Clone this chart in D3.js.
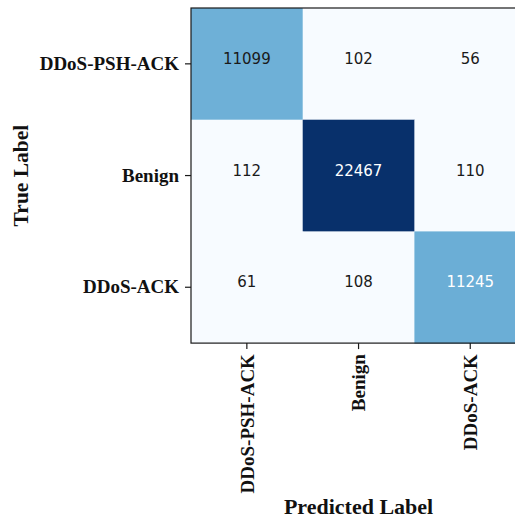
<!DOCTYPE html>
<html>
<head>
<meta charset="utf-8">
<script src="https://cdn.jsdelivr.net/npm/d3@7"></script>
<style>
  html, body { margin: 0; padding: 0; background: #ffffff; }
  svg { display: block; }
</style>
</head>
<body>
<svg id="chart" width="515" height="521"></svg>
<script>
// Class names shared by both axes
const classes = ["DDoS-PSH-ACK", "Benign", "DDoS-ACK"];
// Rows: true label, columns: predicted label
const rowPSH = [11099, 102, 56];
const rowBenign = [112, 22467, 110];
const rowACK = [61, 108, 11245];
const matrix = [rowPSH, rowBenign, rowACK];

// Matplotlib "Blues" stops
const bluesStops = ["#f7fbff", "#deebf7", "#c6dbef", "#9ecae1", "#6baed6",
                    "#4292c6", "#2171b5", "#08519c", "#08306b"];

const svg = d3.select("#chart");
const plotLeft = 191, plotTop = 8, cell = 111.7;
const size = cell * classes.length;

const flat = matrix.flat();
const vmin = d3.min(flat), vmax = d3.max(flat);
const norm = d3.scaleLinear().domain([vmin, vmax]).range([0, 1]);
const blues = d3.scaleLinear()
  .domain(bluesStops.map((_, i) => i / (bluesStops.length - 1)))
  .range(bluesStops)
  .interpolate(d3.interpolateRgb);
// Annotations switch to white above half the maximum count
const thresh = vmax / 2;

const x = d3.scaleBand().domain(classes).range([plotLeft, plotLeft + size]);
const y = d3.scaleBand().domain(classes).range([plotTop, plotTop + size]);

const cells = [];
matrix.forEach((row, i) => row.forEach((v, j) => cells.push({ r: classes[i], c: classes[j], v })));

svg.append("g").selectAll("rect").data(cells).join("rect")
  .attr("x", d => x(d.c))
  .attr("y", d => y(d.r))
  .attr("width", x.bandwidth() + 0.5)
  .attr("height", y.bandwidth() + 0.5)
  .attr("fill", d => blues(norm(d.v)));

svg.append("g").selectAll("text").data(cells).join("text")
  .attr("x", d => x(d.c) + x.bandwidth() / 2)
  .attr("y", d => y(d.r) + y.bandwidth() / 2 - 5)
  .attr("text-anchor", "middle")
  .attr("dominant-baseline", "central")
  .attr("font-family", "DejaVu Sans, sans-serif")
  .attr("font-size", 15)
  .attr("fill", d => d.v > thresh ? "#ffffff" : "#1a1a1a")
  .text(d => d.v);

// Frame
svg.append("rect")
  .attr("x", plotLeft).attr("y", plotTop)
  .attr("width", size).attr("height", size)
  .attr("fill", "none").attr("stroke", "#1a1a1a").attr("stroke-width", 1.2);

const serif = "'Liberation Serif', 'Times New Roman', serif";

// Y axis
const yAxis = svg.append("g")
  .attr("transform", `translate(${plotLeft},0)`)
  .call(d3.axisLeft(y).tickSize(6).tickPadding(6));
yAxis.select(".domain").remove();
yAxis.selectAll("line").attr("stroke", "#1a1a1a").attr("stroke-width", 1.2);
yAxis.selectAll("text")
  .attr("font-family", serif).attr("font-weight", "bold")
  .attr("font-size", 19).attr("fill", "#111");

// X axis with rotated labels
const xAxis = svg.append("g")
  .attr("transform", `translate(0,${plotTop + size})`)
  .call(d3.axisBottom(x).tickSize(6).tickPadding(6));
xAxis.select(".domain").remove();
xAxis.selectAll("line").attr("stroke", "#1a1a1a").attr("stroke-width", 1.2);
xAxis.selectAll("text")
  .attr("font-family", serif).attr("font-weight", "bold")
  .attr("font-size", 19).attr("fill", "#111")
  .attr("transform", "rotate(-90)")
  .attr("text-anchor", "end")
  .attr("dy", "0.35em")
  .attr("x", -11)
  .attr("y", 0);

// Axis titles
svg.append("text")
  .attr("transform", `translate(27.5,${plotTop + size / 2}) rotate(-90)`)
  .attr("text-anchor", "middle")
  .attr("font-family", serif).attr("font-weight", "bold")
  .attr("font-size", 21.5).attr("fill", "#111")
  .text("True Label");

svg.append("text")
  .attr("x", plotLeft + size / 2)
  .attr("y", 514)
  .attr("text-anchor", "middle")
  .attr("font-family", serif).attr("font-weight", "bold")
  .attr("font-size", 22).attr("fill", "#111")
  .text("Predicted Label");
</script>
</body>
</html>
